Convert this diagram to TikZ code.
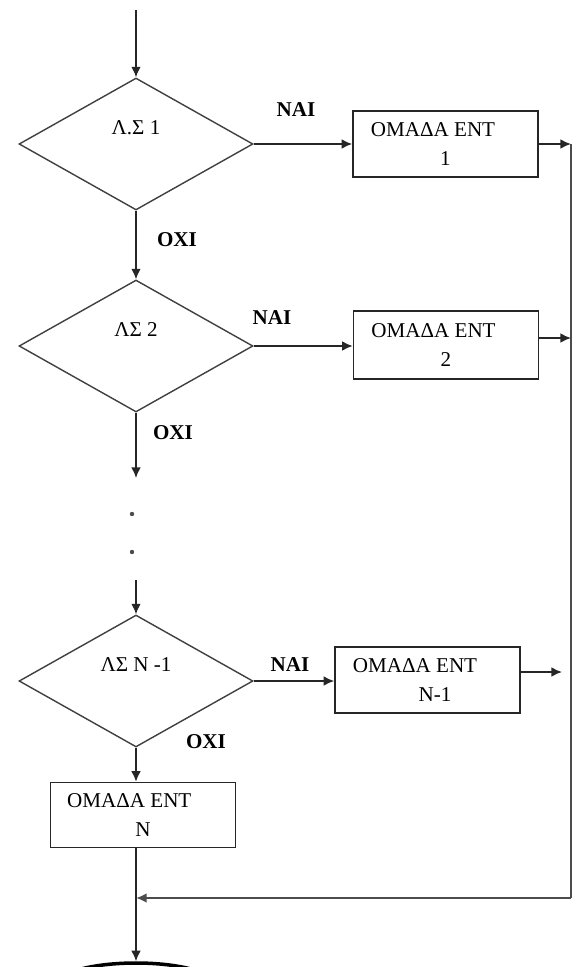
\documentclass[tikz,border=0pt]{standalone}
\usepackage{fontspec}
\setmainfont{Liberation Serif}
\usepackage{tikz}
\usetikzlibrary{calc, positioning, arrows.meta, shapes.geometric}

\begin{document}
\begin{tikzpicture}[
    x=0.02cm, y=-0.02cm,
    font=\fontsize{12}{16}\selectfont,
    flow_line/.style={line width=0.9pt, draw=black!85},
    flow_arrow/.style={flow_line, -{Latex[length=6pt,width=5.5pt]}},
    decision/.style={diamond, draw=black!75, line width=0.8pt, inner sep=0pt, minimum width=4.68cm, minimum height=2.64cm},
    group_box/.style={rectangle, draw=black!85, line width=0.9pt, minimum width=3.7cm, minimum height=1.32cm, align=center, inner sep=0pt},
    answer/.style={font=\fontsize{12}{14}\selectfont\bfseries, inner sep=0pt},
    dot/.style={circle, fill=black!70, inner sep=0pt, minimum size=2.5pt},
    stop_shape/.style={ellipse, draw=black, line width=2pt, minimum width=3.2cm, minimum height=0.88cm}
]
    \useasboundingbox (0,0) rectangle (583,967);

    % 1. DECISIONS
    \coordinate (start) at (136,10);
    \node[decision, label={[yshift=0.32cm]center:Λ.Σ 1}] (d1) at (136,144) {};
    \node[decision, label={[yshift=0.32cm]center:ΛΣ 2}] (d2) at (136,346) {};
    \node[decision, label={[yshift=0.32cm]center:ΛΣ N -1}] (d3) at (136,681) {};

    % 2. GROUP BOXES
    \node[group_box] (b1) at (445.5,144) {ΟΜΑΔΑ ΕΝΤ\hspace*{0.5cm}\\1};
    \node[group_box, minimum height=1.36cm] (b2) at (446,345) {ΟΜΑΔΑ ΕΝΤ\hspace*{0.5cm}\\2};
    \node[group_box] (b3) at (427.5,680) {ΟΜΑΔΑ ΕΝΤ\hspace*{0.5cm}\\\hspace*{0.3cm}N-1};
    \node[group_box, minimum height=1.3cm] (bN) at (143,815) {ΟΜΑΔΑ ΕΝΤ\hspace*{0.55cm}\\N};
    \node[stop_shape] (stop) at (136,985) {};

    % 3. MAIN COLUMN (NO)
    \coordinate (gap_top) at (136,478);
    \coordinate (gap_bottom) at (136,580);
    \node[dot] (dot1) at (132,514) {};
    \node[dot] (dot2) at (132,552) {};
    \draw[flow_arrow] (start) -- (d1.north);
    \draw[flow_arrow] (d1.south) -- (d2.north);
    \draw[flow_arrow] (d2.south) -- (gap_top);
    \draw[flow_arrow] (gap_bottom) -- (d3.north);
    \draw[flow_arrow] (d3.south) -- (d3.south |- bN.north);
    \draw[flow_arrow] (d3.south |- bN.south) -- (stop.north);
    \node[answer] (no1) at (177,240) {ΟΧΙ};
    \node[answer] (no2) at (173,433) {ΟΧΙ};
    \node[answer] (no3) at (206,742) {ΟΧΙ};

    % 4. BRANCHES (YES)
    \draw[flow_arrow] (d1.east) -- (b1.west);
    \draw[flow_arrow] (d2.east) -- (d2.east -| b2.west);
    \draw[flow_arrow] (d3.east) -- (d3.east -| b3.west);
    \node[answer] (yes1) at (296,110) {ΝΑΙ};
    \node[answer] (yes2) at (272,318) {ΝΑΙ};
    \node[answer] (yes3) at (290,665) {ΝΑΙ};

    % 5. RETURN BUS
    \coordinate (bus1) at (571,144);
    \coordinate (bus2) at (571,338);
    \coordinate (bus_end) at (571,898);
    \coordinate (merge) at (136,898);
    \coordinate (out3) at (562,672);
    \draw[flow_arrow] (b1.east) -- (bus1);
    \draw[flow_arrow] (b2.east |- bus2) -- (bus2);
    \draw[flow_arrow] (b3.east |- out3) -- (out3);
    \draw[flow_line, draw=black!70, line width=1.2pt] (bus1) -- (bus_end);
    \draw[flow_arrow, draw=black!70, line width=1.2pt] (bus_end) -- (merge);

\end{tikzpicture}
\end{document}
